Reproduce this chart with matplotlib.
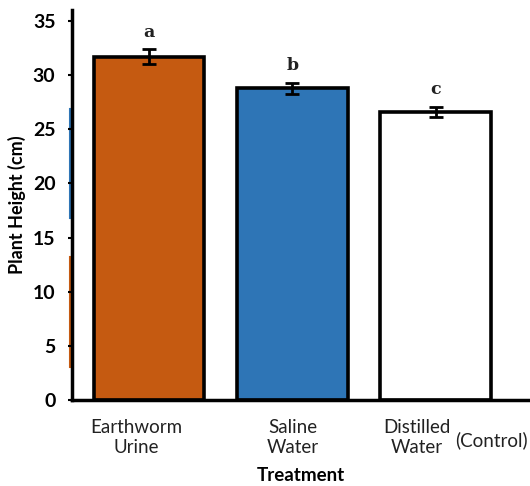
import matplotlib
matplotlib.use('Agg')
import matplotlib.pyplot as plt
import matplotlib.transforms as mtransforms

treatments = ['Earthworm\nUrine', 'Saline\nWater', 'Distilled\nWater']
heights = [31.7, 28.8, 26.6]
errors = [0.7, 0.5, 0.45]
letters = ['a', 'b', 'c']
colors = ['#C55A11', '#2E75B6', '#FFFFFF']
yticks = [0, 5, 10, 15, 20, 25, 30, 35]
# faint coloured strips left of the y axis (leftover in the original image)
strip_ranges = [(16.8, 26.9), (3.0, 13.2)]
strip_colors = ['#2E75B6', '#C55A11']

plt.rcParams['font.family'] = ['Lato', 'DejaVu Sans']

fig = plt.figure(figsize=(5.3, 4.86), dpi=100)
ax = fig.add_axes([0.136, 0.177, 0.864, 0.802])

x = list(range(len(treatments)))
ax.bar(x, heights, width=0.77, color=colors, edgecolor='black', linewidth=2.6, zorder=2)
ax.errorbar(x, heights, yerr=errors, fmt='none', ecolor='black',
            elinewidth=2, capsize=5, capthick=2, zorder=3)

for xi, h, e, l in zip(x, heights, errors, letters):
    ax.text(xi, h + e + 0.8, l, ha='center', va='bottom', fontsize=12.5,
            fontweight='bold', family='DejaVu Serif', color='#222222')

trans = mtransforms.blended_transform_factory(ax.transAxes, ax.transData)
trans = trans + mtransforms.ScaledTranslation(-2.5 / 100, 0, fig.dpi_scale_trans)
for (y0, y1), c in zip(strip_ranges, strip_colors):
    ax.plot([0, 0], [y0, y1], color=c, lw=1.5, transform=trans, clip_on=False, zorder=1)

ax.set_xlim(-0.54, 2.66)
ax.set_ylim(0, 36)
ax.set_yticks(yticks)
ax.set_yticklabels([str(t) for t in yticks], fontsize=14, fontweight='bold')
label_shift = [-0.09, 0.0, -0.13]
ax.set_xticks([xi + d for xi, d in zip(x, label_shift)])
ax.set_xticklabels(treatments, fontsize=13.5, color='#222222', linespacing=1.2)
ax.tick_params(axis='x', length=0, pad=14)
ax.tick_params(axis='y', length=3, width=1.5, pad=9)
fig.text(0.996, 1 - 440 / 486, '(Control)', ha='right', va='center',
         fontsize=13.5, color='#222222')

for s in ['top', 'right']:
    ax.spines[s].set_visible(False)
for s in ['left', 'bottom']:
    ax.spines[s].set_linewidth(2.5)

ax.set_ylabel('Plant Height (cm)', fontsize=13, fontweight='bold', labelpad=5)
ax.set_xlabel('Treatment', fontsize=13.5, fontweight='bold', labelpad=8)

fig.savefig('out.png', dpi=100)
